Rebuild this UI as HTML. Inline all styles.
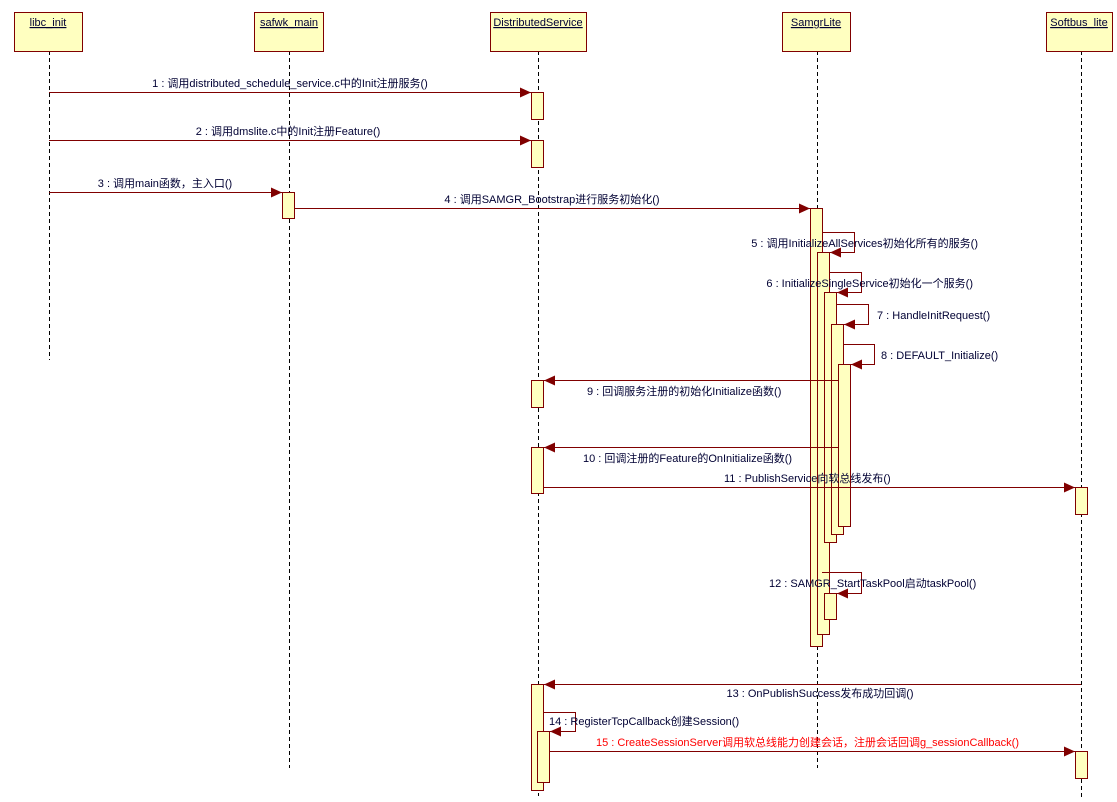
<!DOCTYPE html>
<html><head><meta charset="utf-8"><style>
html,body{margin:0;padding:0;background:#fff;}
svg{display:block;}
text{font-family:"Liberation Sans","Noto Sans CJK SC",sans-serif;font-size:11px;fill:#000033;}
</style></head><body>
<svg width="1117" height="802" viewBox="0 0 1117 802" xmlns="http://www.w3.org/2000/svg">
<defs>
<marker id="a" markerWidth="12" markerHeight="10" refX="11" refY="5" orient="auto" markerUnits="userSpaceOnUse">
<path d="M0,0 L11,5 L0,10 z" fill="#800000"/></marker>
</defs>
<g stroke="#000" stroke-dasharray="4,3" stroke-width="1">
<line x1="49.5" y1="51" x2="49.5" y2="360"/>
<line x1="289.5" y1="51" x2="289.5" y2="768"/>
<line x1="538.5" y1="51" x2="538.5" y2="796"/>
<line x1="817.5" y1="51" x2="817.5" y2="768"/>
<line x1="1081.5" y1="51" x2="1081.5" y2="800"/>
</g>
<g fill="#ffffc0" stroke="#800000" stroke-width="1">
<rect x="14.5" y="12.5" width="68" height="39"/>
<rect x="254.5" y="12.5" width="69" height="39"/>
<rect x="490.5" y="12.5" width="96" height="39"/>
<rect x="782.5" y="12.5" width="68" height="39"/>
<rect x="1046.5" y="12.5" width="66" height="39"/>
</g>
<g text-anchor="middle" text-decoration="underline">
<text x="48" y="26" text-decoration="underline">libc_init</text>
<text x="289" y="26" text-decoration="underline">safwk_main</text>
<text x="538" y="26" text-decoration="underline">DistributedService</text>
<text x="816" y="26" text-decoration="underline">SamgrLite</text>
<text x="1079" y="26" text-decoration="underline">Softbus_lite</text>
</g>
<g fill="#ffffc0" stroke="#800000" stroke-width="1">
<rect x="531.5" y="92.5" width="12" height="27"/>
<rect x="531.5" y="140.5" width="12" height="27"/>
<rect x="282.5" y="192.5" width="12" height="26"/>
<rect x="810.5" y="208.5" width="12" height="438"/>
<rect x="817.5" y="252.5" width="12" height="382"/>
<rect x="824.5" y="292.5" width="12" height="250"/>
<rect x="831.5" y="324.5" width="12" height="210"/>
<rect x="838.5" y="364.5" width="12" height="162"/>
<rect x="531.5" y="380.5" width="12" height="27"/>
<rect x="531.5" y="447.5" width="12" height="46"/>
<rect x="1075.5" y="487.5" width="12" height="27"/>
<rect x="824.5" y="593.5" width="12" height="26"/>
<rect x="531.5" y="684.5" width="12" height="106"/>
<rect x="537.5" y="731.5" width="12" height="51"/>
<rect x="1075.5" y="751.5" width="12" height="27"/>
</g>
<g stroke="#800000" stroke-width="1" fill="none" marker-end="url(#a)">
<line x1="49" y1="92.5" x2="531" y2="92.5"/>
<line x1="49" y1="140.5" x2="531" y2="140.5"/>
<line x1="49" y1="192.5" x2="282" y2="192.5"/>
<line x1="294" y1="208.5" x2="810" y2="208.5"/>
<polyline points="822,232.5 854.5,232.5 854.5,252.5 830,252.5"/>
<polyline points="829,272.5 861.5,272.5 861.5,292.5 837,292.5"/>
<polyline points="836,304.5 868.5,304.5 868.5,324.5 844,324.5"/>
<polyline points="843,344.5 874.5,344.5 874.5,364.5 851,364.5"/>
<line x1="838" y1="380.5" x2="544" y2="380.5"/>
<line x1="838" y1="447.5" x2="544" y2="447.5"/>
<line x1="543" y1="487.5" x2="1075" y2="487.5"/>
<polyline points="822,572.5 861.5,572.5 861.5,593.5 837,593.5"/>
<line x1="1081" y1="684.5" x2="544" y2="684.5"/>
<polyline points="543,712.5 575.5,712.5 575.5,731.5 550,731.5"/>
<line x1="549" y1="751.5" x2="1075" y2="751.5"/>
</g>
<text x="290" y="87" text-anchor="middle">1 : 调用distributed_schedule_service.c中的Init注册服务()</text>
<text x="288" y="135" text-anchor="middle">2 : 调用dmslite.c中的Init注册Feature()</text>
<text x="165" y="187" text-anchor="middle">3 : 调用main函数，主入口()</text>
<text x="552" y="203" text-anchor="middle">4 : 调用SAMGR_Bootstrap进行服务初始化()</text>
<text x="978" y="247" text-anchor="end">5 : 调用InitializeAllServices初始化所有的服务()</text>
<text x="973" y="287" text-anchor="end">6 : InitializeSingleService初始化一个服务()</text>
<text x="877" y="319">7 : HandleInitRequest()</text>
<text x="881" y="359">8 : DEFAULT_Initialize()</text>
<text x="587" y="395">9 : 回调服务注册的初始化Initialize函数()</text>
<text x="583" y="462">10 : 回调注册的Feature的OnInitialize函数()</text>
<text x="724" y="482">11 : PublishService向软总线发布()</text>
<text x="769" y="587">12 : SAMGR_StartTaskPool启动taskPool()</text>
<text x="820" y="697" text-anchor="middle">13 : OnPublishSuccess发布成功回调()</text>
<text x="549" y="725">14 : RegisterTcpCallback创建Session()</text>
<text x="596" y="746" style="fill:#ff0000">15 : CreateSessionServer调用软总线能力创建会话，注册会话回调g_sessionCallback()</text>
</svg>
</body></html>
